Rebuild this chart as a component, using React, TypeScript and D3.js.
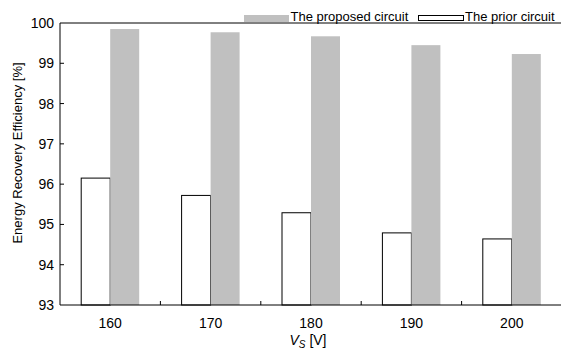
import * as d3 from 'd3';
import { useEffect, useRef } from 'react';

const voltages = ['160', '170', '180', '190', '200'];
const priorCircuit = [96.15, 95.72, 95.29, 94.79, 94.64];
const proposedCircuit = [99.85, 99.77, 99.67, 99.45, 99.23];
const yTicks = [93, 94, 95, 96, 97, 98, 99, 100];

export default function App() {
  const ref = useRef<SVGSVGElement | null>(null);

  useEffect(() => {
    const svg = d3.select(ref.current);
    svg.selectAll('*').remove();
    const width = 561;
    const height = 356;
    const margin = { top: 23, right: 0, bottom: 51, left: 60 };
    const innerW = width - margin.left - margin.right;
    const innerH = height - margin.top - margin.bottom;
    const font = 'Arial, "Liberation Sans", sans-serif';
    const g = svg.append('g').attr('transform', `translate(${margin.left},${margin.top})`);

    const x = d3.scaleBand<string>().domain(voltages).range([0, innerW + 1]);
    const y = d3.scaleLinear().domain([93, 100]).range([innerH, 0]);
    const barW = 29;

    // bars
    g.selectAll('rect.prior')
      .data(voltages)
      .enter()
      .append('rect')
      .attr('class', 'prior')
      .attr('x', (d) => x(d)! + x.bandwidth() / 2 - barW)
      .attr('y', (_, i) => y(priorCircuit[i]))
      .attr('width', barW)
      .attr('height', (_, i) => innerH - y(priorCircuit[i]))
      .attr('fill', '#fff')
      .attr('stroke', '#000')
      .attr('stroke-width', 1);

    g.selectAll('rect.proposed')
      .data(voltages)
      .enter()
      .append('rect')
      .attr('class', 'proposed')
      .attr('x', (d) => x(d)! + x.bandwidth() / 2)
      .attr('y', (_, i) => y(proposedCircuit[i]))
      .attr('width', barW)
      .attr('height', (_, i) => innerH - y(proposedCircuit[i]))
      .attr('fill', '#c0c0c0');

    // frame
    g.append('line').attr('x1', 0).attr('x2', innerW).attr('y1', 0).attr('y2', 0).attr('stroke', '#000');
    g.append('line').attr('x1', 0).attr('x2', innerW).attr('y1', innerH).attr('y2', innerH).attr('stroke', '#000');
    g.append('line').attr('x1', 0).attr('x2', 0).attr('y1', 0).attr('y2', innerH).attr('stroke', '#000');

    // y ticks (inward)
    g.selectAll('line.yt')
      .data(yTicks.slice(1, -1))
      .enter()
      .append('line')
      .attr('x1', 0)
      .attr('x2', 4)
      .attr('y1', (d) => y(d))
      .attr('y2', (d) => y(d))
      .attr('stroke', '#000');
    g.selectAll('text.yl')
      .data(yTicks)
      .enter()
      .append('text')
      .attr('x', -6)
      .attr('y', (d) => y(d) + 5)
      .attr('text-anchor', 'end')
      .attr('font-family', font)
      .attr('font-size', 14)
      .text((d) => d);

    // x ticks between bands (inward)
    g.selectAll('line.xt')
      .data(voltages.slice(1))
      .enter()
      .append('line')
      .attr('x1', (d) => x(d)!)
      .attr('x2', (d) => x(d)!)
      .attr('y1', innerH)
      .attr('y2', innerH - 4)
      .attr('stroke', '#000');
    g.selectAll('text.xl')
      .data(voltages)
      .enter()
      .append('text')
      .attr('x', (d) => x(d)! + x.bandwidth() / 2)
      .attr('y', innerH + 23)
      .attr('text-anchor', 'middle')
      .attr('font-family', font)
      .attr('font-size', 14)
      .text((d) => d);

    // axis titles
    const xt = svg
      .append('text')
      .attr('x', 308)
      .attr('y', 345)
      .attr('text-anchor', 'middle')
      .attr('font-family', font)
      .attr('font-size', 14);
    xt.append('tspan').attr('font-style', 'italic').text('V');
    xt.append('tspan').attr('font-style', 'italic').attr('font-size', 10).attr('dy', 3).text('S');
    xt.append('tspan').attr('dy', -3).text(' [V]');

    svg
      .append('text')
      .attr('transform', 'translate(22,153) rotate(-90)')
      .attr('text-anchor', 'middle')
      .attr('font-family', font)
      .attr('font-size', 13)
      .text('Energy Recovery Efficiency [%]');

    // legend
    const legend = svg.append('g');
    legend.append('rect').attr('x', 244).attr('y', 15).attr('width', 45).attr('height', 7).attr('fill', '#c0c0c0');
    legend
      .append('text')
      .attr('x', 290.5)
      .attr('y', 21)
      .attr('font-family', font)
      .attr('font-size', 13)
      .text('The proposed circuit');
    legend
      .append('rect')
      .attr('x', 418.5)
      .attr('y', 15.5)
      .attr('width', 45)
      .attr('height', 5)
      .attr('fill', '#fff')
      .attr('stroke', '#000');
    legend
      .append('text')
      .attr('x', 465)
      .attr('y', 21)
      .attr('font-family', font)
      .attr('font-size', 13)
      .text('The prior circuit');
  }, []);

  return (
    <svg
      ref={ref}
      width={561}
      height={356}
      style={{ position: 'absolute', left: 0, top: 0, background: '#fff' }}
    />
  );
}
